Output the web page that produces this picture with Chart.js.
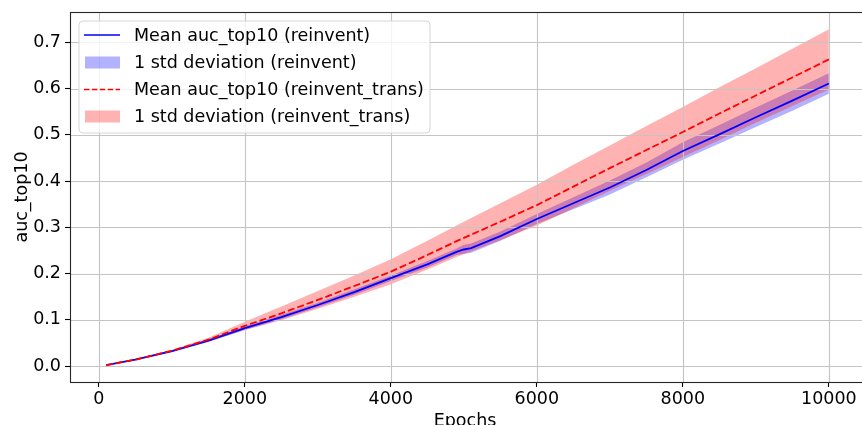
<!DOCTYPE html>
<html>
<head>
<meta charset="utf-8">
<script src="https://cdn.jsdelivr.net/npm/chart.js@4"></script>
<style>
  html, body { margin: 0; padding: 0; background: #fff; overflow: hidden; }
  #wrap { width: 866px; height: 425px; position: relative; }
</style>
</head>
<body>
<div id="wrap"><canvas id="aucChart"></canvas></div>
<script>
// --- data ---
const epochs = [100, 500, 1000, 1500, 2000, 2500, 3000, 3500, 4000, 4500, 4900, 5000, 5100,
                5500, 6000, 6500, 7000, 7500, 8000, 8500, 9000, 9500, 10000];

const reinventMean = [0.002, 0.014, 0.032, 0.055, 0.082, 0.106, 0.132, 0.160, 0.190, 0.220, 0.247, 0.252, 0.255,
                      0.281, 0.318, 0.352, 0.386, 0.424, 0.465, 0.501, 0.538, 0.574, 0.611];
const reinventStd = [0.0005, 0.001, 0.002, 0.003, 0.004, 0.005, 0.005, 0.006, 0.006, 0.007, 0.007, 0.010, 0.010,
                     0.010, 0.011, 0.013, 0.015, 0.016, 0.019, 0.020, 0.021, 0.022, 0.022];

const transMean = [0.002, 0.014, 0.033, 0.057, 0.087, 0.114, 0.143, 0.173, 0.204, 0.240, 0.270, 0.277, 0.284,
                   0.312, 0.348, 0.388, 0.428, 0.467, 0.506, 0.546, 0.585, 0.624, 0.663];
const transStd = [0.0005, 0.001, 0.002, 0.004, 0.009, 0.015, 0.019, 0.023, 0.027, 0.031, 0.034, 0.035, 0.036,
                  0.040, 0.044, 0.047, 0.049, 0.052, 0.054, 0.057, 0.059, 0.062, 0.065];

const xTicks = [0, 2000, 4000, 6000, 8000, 10000];
const yTicks = [0.0, 0.1, 0.2, 0.3, 0.4, 0.5, 0.6, 0.7];

const legendLabels = [
    'Mean auc_top10 (reinvent)',
    '1 std deviation (reinvent)',
    'Mean auc_top10 (reinvent_trans)',
    '1 std deviation (reinvent_trans)'
];

const FONT = "'DejaVu Sans', sans-serif";
const BLUE = '#0000ff', RED = '#ff0000';
const BLUE_BAND = 'rgba(0,0,255,0.3)', RED_BAND = 'rgba(255,0,0,0.3)';
const GRID = '#c4c4c4';

const pts = (ys) => epochs.map((x, i) => ({ x: x, y: ys[i] }));
const band = (m, s, sign) => m.map((v, i) => v + sign * s[i]);

function bound(ys, order) {
    return { data: pts(ys), borderWidth: 0, pointRadius: 0, fill: false, order: order, borderColor: 'transparent' };
}

// gridlines go above the bands but under the mean lines (matplotlib style)
const gridPlugin = {
    id: 'gridUnderLines',
    beforeDatasetDraw(chart, args) {
        if (args.index !== 4) return;
        const { ctx, chartArea: a, scales: { x, y } } = chart;
        ctx.save();
        ctx.beginPath();
        ctx.rect(a.left, a.top, a.right - a.left, a.bottom - a.top);
        ctx.clip();
        ctx.strokeStyle = GRID;
        ctx.lineWidth = 1.1;
        xTicks.forEach(v => {
            const px = Math.round(x.getPixelForValue(v)) + 0.5;
            ctx.beginPath(); ctx.moveTo(px, a.top); ctx.lineTo(px, a.bottom); ctx.stroke();
        });
        yTicks.forEach(v => {
            const py = Math.round(y.getPixelForValue(v)) + 0.5;
            ctx.beginPath(); ctx.moveTo(a.left, py); ctx.lineTo(a.right, py); ctx.stroke();
        });
        ctx.restore();
    }
};

const framePlugin = {
    id: 'frameAndLegend',
    afterDraw(chart) {
        const { ctx, chartArea: a } = chart;
        ctx.save();
        // spines
        ctx.strokeStyle = '#262626';
        ctx.lineWidth = 1.1;
        ctx.strokeRect(Math.round(a.left) + 0.5, Math.round(a.top) + 0.5, a.right - a.left, a.bottom - a.top);

        // axis titles
        ctx.fillStyle = '#000';
        ctx.font = `17.5px ${FONT}`;
        ctx.textAlign = 'center';
        ctx.textBaseline = 'alphabetic';
        ctx.fillText('Epochs', (a.left + 860) / 2, 426);
        ctx.save();
        ctx.translate(27, (a.top + a.bottom) / 2);
        ctx.rotate(-Math.PI / 2);
        ctx.fillText('auc_top10', 0, 0);
        ctx.restore();

        // legend box
        const bx = 79, by = 21, bw = 351, bh = 112, r = 4;
        ctx.beginPath();
        ctx.moveTo(bx + r, by);
        ctx.arcTo(bx + bw, by, bx + bw, by + bh, r);
        ctx.arcTo(bx + bw, by + bh, bx, by + bh, r);
        ctx.arcTo(bx, by + bh, bx, by, r);
        ctx.arcTo(bx, by, bx + bw, by, r);
        ctx.closePath();
        ctx.fillStyle = 'rgba(255,255,255,0.8)';
        ctx.fill();
        ctx.strokeStyle = '#d6d6d6';
        ctx.lineWidth = 1;
        ctx.stroke();

        const rows = [35, 62.5, 89.5, 116.5];
        // handles
        ctx.lineWidth = 1.6;
        ctx.strokeStyle = BLUE;
        ctx.setLineDash([]);
        ctx.beginPath(); ctx.moveTo(84, rows[0]); ctx.lineTo(120, rows[0]); ctx.stroke();
        ctx.fillStyle = BLUE_BAND;
        ctx.fillRect(85, rows[1] - 6, 35, 12);
        ctx.strokeStyle = RED;
        ctx.setLineDash([5.5, 2.4]);
        ctx.beginPath(); ctx.moveTo(84, rows[2]); ctx.lineTo(120, rows[2]); ctx.stroke();
        ctx.setLineDash([]);
        ctx.fillStyle = RED_BAND;
        ctx.fillRect(85, rows[3] - 6, 35, 12);

        ctx.fillStyle = '#000';
        ctx.textAlign = 'left';
        ctx.textBaseline = 'middle';
        legendLabels.forEach((t, i) => ctx.fillText(t, 134, rows[i] + 1));
        ctx.restore();
    }
};

Chart.defaults.font.family = FONT;
Chart.defaults.font.size = 17.5;
Chart.defaults.color = '#000';

new Chart(document.getElementById('aucChart'), {
    type: 'line',
    data: {
        datasets: [
            bound(band(reinventMean, reinventStd, -1), 5),
            Object.assign(bound(band(reinventMean, reinventStd, 1), 4), { fill: '-1', backgroundColor: BLUE_BAND }),
            bound(band(transMean, transStd, -1), 3),
            Object.assign(bound(band(transMean, transStd, 1), 2), { fill: '-1', backgroundColor: RED_BAND }),
            { data: pts(reinventMean), borderColor: BLUE, borderWidth: 1.8, pointRadius: 0, fill: false, order: 1 },
            { data: pts(transMean), borderColor: RED, borderWidth: 1.8, borderDash: [7, 3], pointRadius: 0, fill: false, order: 0 }
        ]
    },
    options: {
        responsive: true,
        maintainAspectRatio: false,
        devicePixelRatio: 1,
        animation: false,
        events: [],
        layout: { padding: { top: 12, right: 1, left: 0, bottom: 0 } },
        plugins: { legend: { display: false }, tooltip: { enabled: false } },
        scales: {
            x: {
                type: 'linear',
                min: -395, max: 10495,
                afterBuildTicks: s => { s.ticks = xTicks.map(v => ({ value: v })); },
                afterFit: s => { s.height = 43; s.paddingLeft = 0; s.paddingRight = 0; },
                ticks: { autoSkip: false, maxRotation: 0, padding: 2, callback: v => String(v) },
                grid: { drawOnChartArea: false, drawTicks: true, tickLength: 5, tickColor: '#000', tickWidth: 1.1 },
                border: { display: false }
            },
            y: {
                type: 'linear',
                min: -0.0345, max: 0.7655,
                afterBuildTicks: s => { s.ticks = yTicks.map(v => ({ value: v })); },
                afterFit: s => { s.width = 70; s.paddingTop = 0; s.paddingBottom = 0; },
                ticks: { autoSkip: false, padding: 4, callback: v => v.toFixed(1) },
                grid: { drawOnChartArea: false, drawTicks: true, tickLength: 5, tickColor: '#000', tickWidth: 1.1 },
                border: { display: false }
            }
        }
    },
    plugins: [gridPlugin, framePlugin]
});
</script>
</body>
</html>
